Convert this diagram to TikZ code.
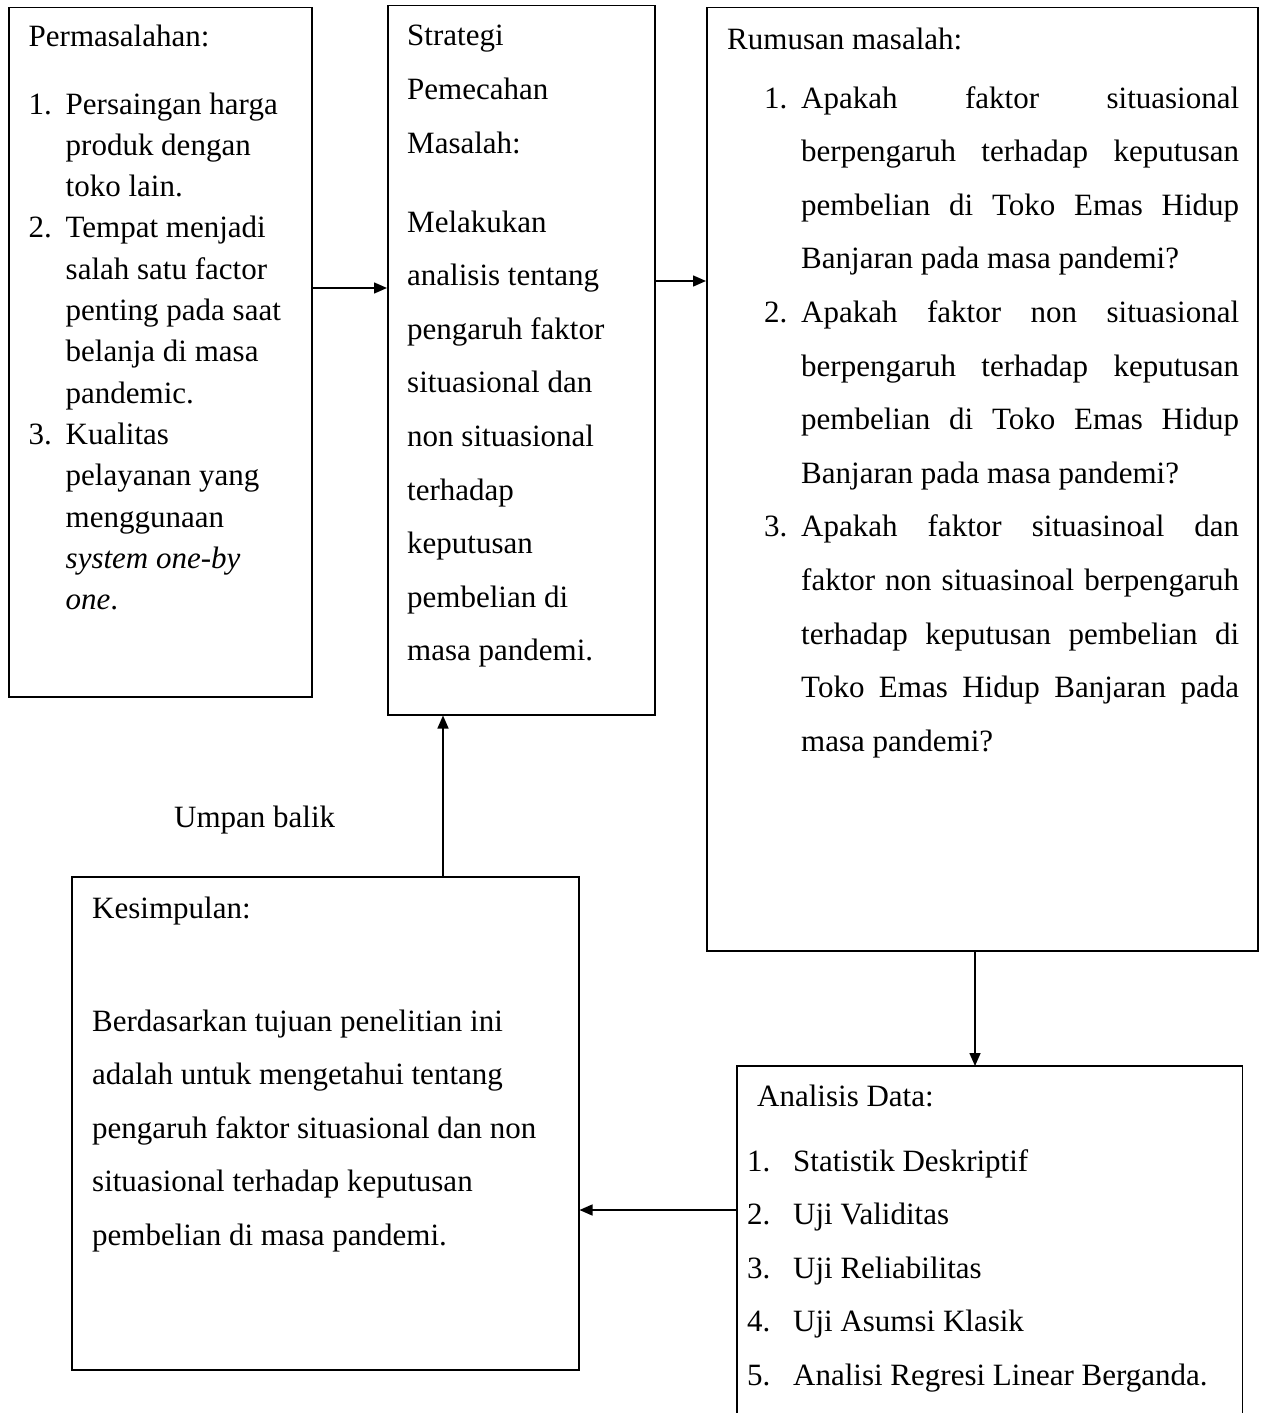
\documentclass[tikz,border=0pt]{standalone}
\usepackage{fontspec}
\setmainfont{Liberation Serif}
\usetikzlibrary{arrows.meta}
\newcommand{\jl}[1]{\makebox[438pt][s]{#1}}
\newcommand{\nm}[2]{\makebox[#1][l]{#2}}
\begin{document}
\begin{tikzpicture}[x=1pt,y=-1pt,
  box/.style={draw, line width=1.5pt, inner sep=0pt, anchor=north west},
  txt/.style={inner sep=0pt, anchor=base west, font=\fontsize{31}{53.6}\selectfont},
  txtA/.style={inner sep=0pt, anchor=base west, font=\fontsize{31}{41.3}\selectfont},
  arr/.style={line width=1.5pt, -{Triangle[length=13pt,width=11pt]}}]
\useasboundingbox (0,0) rectangle (1264,1413);
% boxes
\node[box, minimum width=303pt, minimum height=689pt] (b1) at (8,7) {};
\node[box, minimum width=267pt, minimum height=709pt] (b2) at (387,5) {};
\node[box, minimum width=551pt, minimum height=943pt] (b3) at (706,7) {};
\node[box, minimum width=507pt, minimum height=493pt] (b4) at (71,876) {};
\node[inner sep=0pt, anchor=north west, minimum width=505pt, minimum height=347pt] (b5) at (737,1066) {};
\draw[line width=1.5pt] (b5.south west) |- (b5.north east) -- (b5.south east);
% box 1 text
\node[txtA] (t1h) at (28.5,47) {Permasalahan:};
\node[txtA] (t1l) at (28.5,114) {\parbox[t]{282pt}{%
\nm{37pt}{1.}Persaingan harga\\
\nm{37pt}{}produk dengan\\
\nm{37pt}{}toko lain.\\
\nm{37pt}{2.}Tempat menjadi\\
\nm{37pt}{}salah satu factor\\
\nm{37pt}{}penting pada saat\\
\nm{37pt}{}belanja di masa\\
\nm{37pt}{}pandemic.\\
\nm{37pt}{3.}Kualitas\\
\nm{37pt}{}pelayanan yang\\
\nm{37pt}{}menggunaan\\
\nm{37pt}{}\textit{system one-by}\\
\nm{37pt}{}\textit{one}.}};
% box 2 text
\node[txt] (t2h) at (407,46) {\parbox[t]{240pt}{Strategi\\Pemecahan\\Masalah:}};
\node[txt] (t2b) at (407,232) {\parbox[t]{240pt}{Melakukan\\analisis tentang\\pengaruh faktor\\situasional dan\\non situasional\\terhadap\\keputusan\\pembelian di\\masa pandemi.}};
% box 3 text
\node[txt] (t3h) at (727,50) {Rumusan masalah:};
\node[txt] (t3l) at (764,108) {\parbox[t]{480pt}{%
\nm{37pt}{1.}\jl{Apakah faktor situasional}\\
\nm{37pt}{}\jl{berpengaruh terhadap keputusan}\\
\nm{37pt}{}\jl{pembelian di Toko Emas Hidup}\\
\nm{37pt}{}Banjaran pada masa pandemi?\\
\nm{37pt}{2.}\jl{Apakah faktor non situasional}\\
\nm{37pt}{}\jl{berpengaruh terhadap keputusan}\\
\nm{37pt}{}\jl{pembelian di Toko Emas Hidup}\\
\nm{37pt}{}Banjaran pada masa pandemi?\\
\nm{37pt}{3.}\jl{Apakah faktor situasinoal dan}\\
\nm{37pt}{}\jl{faktor non situasinoal berpengaruh}\\
\nm{37pt}{}\jl{terhadap keputusan pembelian di}\\
\nm{37pt}{}\jl{Toko Emas Hidup Banjaran pada}\\
\nm{37pt}{}masa pandemi?}};
% box 4 text
\node[txt] (t4h) at (92,918) {Kesimpulan:};
\node[txt] (t4b) at (92,1031) {\parbox[t]{480pt}{Berdasarkan tujuan penelitian ini\\adalah untuk mengetahui tentang\\pengaruh faktor situasional dan non\\situasional terhadap keputusan\\pembelian di masa pandemi.}};
% box 5 text
\node[txt] (t5h) at (757,1106) {Analisis Data:};
\node[txt] (t5l) at (747,1171) {\parbox[t]{480pt}{%
\nm{46pt}{1.}Statistik Deskriptif\\
\nm{46pt}{2.}Uji Validitas\\
\nm{46pt}{3.}Uji Reliabilitas\\
\nm{46pt}{4.}Uji Asumsi Klasik\\
\nm{46pt}{5.}Analisi Regresi Linear Berganda.}};
% label
\node[txt] (lbl) at (174,827) {Umpan balik};
% connectors
\coordinate (y1) at (0,288);
\coordinate (y2) at (0,281);
\coordinate (x3) at (975,0);
\coordinate (y4) at (0,1210);
\coordinate (x5) at (443,0);
\draw[arr] (b1.east |- y1) -- (b2.west |- y1);
\draw[arr] (b2.east |- y2) -- (b3.west |- y2);
\draw[arr] (b3.south -| x3) -- (b5.north -| x3);
\draw[arr] (b5.west |- y4) -- (b4.east |- y4);
\draw[arr] (b4.north -| x5) -- (b2.south -| x5);
\end{tikzpicture}
\end{document}
